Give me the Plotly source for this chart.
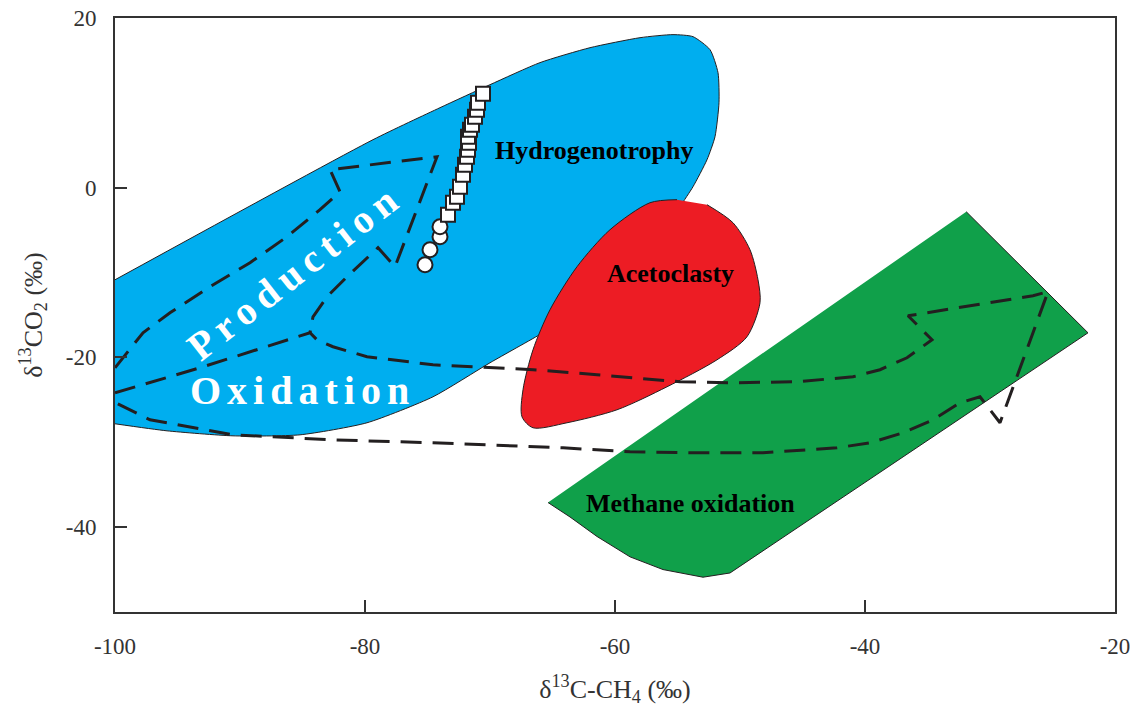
import plotly.graph_objects as go

# ---- region outlines (x = d13C-CH4, y = d13CO2) ----
hydro_x = [-100, -79.36, -74.0, -70.0, -66.0, -62.0, -58.0, -55.36, -53.76, -52.4, -51.76, -51.68,
           -52.0, -52.64, -53.76, -54.8, -56.4, -59.6, -62.8, -65.76, -70.0, -74.56, -79.84,
           -85.2, -90.56, -95.84, -100]
hydro_y = [-10.85, 5.66, 9.43, 12.14, 14.74, 16.5, 17.68, 18.04, 17.8, 16.27, 13.56, 10.02,
           6.01, 3.3, 0.12, -2.24, -6.13, -10.85, -14.38, -17.09, -20.63, -24.64, -27.7,
           -29.12, -29.24, -28.65, -27.82]

aceto_x = [-55.04, -57.2, -60.4, -63.04, -65.2, -66.56, -67.36, -67.44, -66.56, -63.84, -59.84,
           -55.84, -51.84, -49.44, -48.4, -48.56, -49.2, -50.56, -52.64]
aceto_y = [-1.41, -1.77, -4.95, -9.31, -14.38, -19.1, -23.81, -27.0, -28.29, -27.7, -26.17,
           -23.46, -20.28, -17.56, -13.56, -10.85, -7.31, -4.13, -2.0]

meth_x = [-31.9, -22.16, -50.8, -52.96, -56.16, -58.8, -61.44, -63.6, -65.36]
meth_y = [-2.83, -17.1, -45.4, -45.9, -45.0, -43.5, -41.1, -38.8, -37.1]

# ---- dashed arrow outlines ----
prod_x = [-100, -97.76, -95.6, -92.4, -89.2, -86.24, -83.6, -82.0, -82.8, -74.24, -77.6,
          -78.96, -81.44, -83.04, -84.16, -84.4]
prod_y = [-21.22, -17.09, -14.74, -11.67, -8.84, -5.78, -2.59, -0.47, 2.12, 3.65, -9.31,
          -7.07, -10.49, -12.85, -15.21, -17.09]

oxid_x = [-100, -93.2, -84.4, -83.84, -82.56, -79.84, -74.56, -66.56, -61.44, -54.8, -50.8,
          -45.44, -40.96, -38.8, -36.64, -34.64, -36.56, -26.56, -25.36, -29.2, -30.8, -32.4,
          -34.56, -36.96, -39.6, -42.24, -48.16, -53.44, -58.8, -64.16, -74.56, -82.56,
          -90.56, -97.2, -100]
oxid_y = [-24.17, -21.22, -17.09, -17.92, -18.74, -19.92, -20.87, -21.45, -22.04, -22.87, -22.99,
          -22.87, -22.28, -21.45, -20.04, -17.92, -15.09, -12.73, -12.26, -27.7, -24.64, -25.34,
          -27.35, -28.88, -30.06, -30.65, -31.24, -31.24, -31.12, -30.65, -30.06, -29.71,
          -29.12, -27.35, -25.3]

# ---- samples ----
circ_x = [-75.2, -74.8, -74.0, -74.0]
circ_y = [-9.08, -7.31, -5.78, -4.6]
sq_x = [-73.36, -72.96, -72.64, -72.4, -72.16, -72.0, -71.84, -71.76, -71.68, -71.76, -71.6,
        -71.44, -71.2, -71.04, -70.96, -70.56]
sq_y = [-3.18, -1.77, -1.06, 0.12, 1.53, 2.71, 3.65, 4.48, 5.30, 6.01, 6.84, 7.43, 8.37,
        9.19, 10.02, 11.08]

x_ticks = [-100, -80, -60, -40, -20]
x_labels = ["-100", "-80", "-60", "-40", "-20"]
y_ticks = [-40, -20, 0, 20]
y_labels = ["-40", "-20", "0", "20"]

SERIF = "Liberation Serif"
INK = "#231F20"

fig = go.Figure()
fig.add_trace(go.Scatter(x=hydro_x, y=hydro_y, mode="lines", fill="toself", fillcolor="#00AEEF",
                         line=dict(color=INK, width=1, shape="spline", smoothing=0.6),
                         hoverinfo="skip"))
fig.add_trace(go.Scatter(x=aceto_x, y=aceto_y, mode="lines", fill="toself", fillcolor="#ED1C24",
                         line=dict(color=INK, width=1, shape="spline", smoothing=0.8),
                         hoverinfo="skip"))
fig.add_trace(go.Scatter(x=meth_x, y=meth_y, mode="lines", fill="toself", fillcolor="#10A04A",
                         line=dict(color=INK, width=1), hoverinfo="skip"))
for xs, ys in [(prod_x, prod_y), (oxid_x, oxid_y)]:
    fig.add_trace(go.Scatter(x=xs, y=ys, mode="lines",
                             line=dict(color=INK, width=3, dash="21px,11px"),
                             hoverinfo="skip"))
fig.add_trace(go.Scatter(x=circ_x, y=circ_y, mode="markers",
                         marker=dict(symbol="circle", size=15, color="white",
                                     line=dict(color=INK, width=2))))
fig.add_trace(go.Scatter(x=sq_x, y=sq_y, mode="markers",
                         marker=dict(symbol="square", size=14, color="white",
                                     line=dict(color=INK, width=2))))

def label(txt, x, y, size, color="black", angle=0):
    fig.add_annotation(x=x, y=y, text=txt, showarrow=False, textangle=angle,
                       font=dict(family=SERIF, size=size, color=color),
                       xanchor="center", yanchor="middle")

label("<b>Hydrogenotrophy</b>", -61.7, 4.4, 26)
label("<b>Acetoclasty</b>", -55.6, -10.1, 26)
label("<b>Methane oxidation</b>", -54.0, -37.2, 26)
label('<b><span style="letter-spacing:7px">Production</span></b>', -85.6, -9.9, 40, "white", -38)
label('<b><span style="letter-spacing:6px">Oxidation</span></b>', -85.0, -23.9, 40, "white", 0)

axis_common = dict(showgrid=False, zeroline=False, showline=True, linecolor="#333333",
                   linewidth=2, mirror=True, ticks="inside", ticklen=12, tickwidth=2,
                   tickcolor="#333333", tickfont=dict(family=SERIF, size=23, color="#333333"),
                   ticklabelstandoff=12, automargin=False, ticklabeloverflow="allow")
fig.update_xaxes(range=[-100, -20], tickvals=x_ticks, ticktext=x_labels,
                 title=dict(text="δ<sup>13</sup>C-CH<sub>4</sub> (‰)",
                            font=dict(family=SERIF, size=26, color="#333333"), standoff=22),
                 **axis_common)
fig.update_yaxes(range=[-50, 20], tickvals=y_ticks, ticktext=y_labels,
                 title=dict(text="δ<sup>13</sup>CO<sub>2</sub> (‰)",
                            font=dict(family=SERIF, size=26, color="#333333"), standoff=16),
                 **axis_common)
fig.update_layout(width=1146, height=719, showlegend=False, plot_bgcolor="white",
                  paper_bgcolor="white", margin=dict(l=115, r=31, t=18, b=107))
fig.write_html("out.html", config={"displayModeBar": False},
               post_script="document.body.style.margin='0';document.body.style.overflow='hidden';")
